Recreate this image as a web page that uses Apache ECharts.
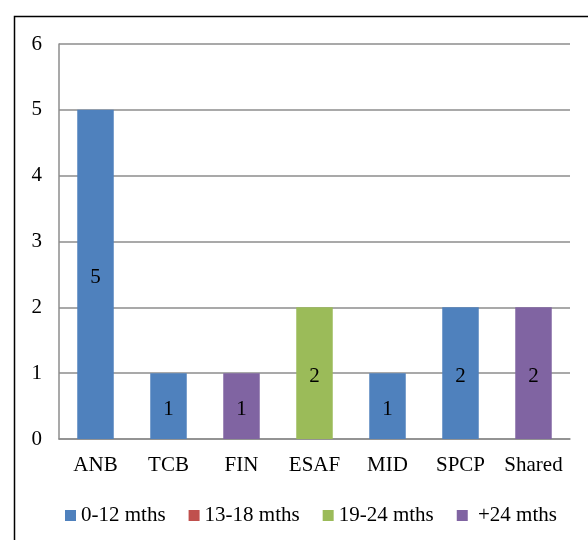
<!DOCTYPE html>
<html>
<head>
<meta charset="utf-8">
<script src="https://cdn.jsdelivr.net/npm/echarts@6/dist/echarts.min.js"></script>
<style>
  html, body { margin: 0; padding: 0; background: #fff; }
  #chart { width: 588px; height: 540px; }
</style>
</head>
<body>
<div id="chart"></div>
<script>
// Project groups along the x axis
const categories = ['ANB', 'TCB', 'FIN', 'ESAF', 'MID', 'SPCP', 'Shared'];

// Counts per age band (null = no bar for that group)
const months0to12  = [5, 1, null, null, 1, 2, null];
const months13to18 = [null, null, null, null, null, null, null];
const months19to24 = [null, null, null, 2, null, null, null];
const months24plus = [null, null, 1, null, null, null, 2];

const seriesNames = ['0-12 mths', '13-18 mths', '19-24 mths', '+24 mths'];
const seriesColors = ['#4F81BD', '#C0504D', '#9BBB59', '#8064A2'];
const seriesData = [months0to12, months13to18, months19to24, months24plus];

const yTicks = { min: 0, max: 6, interval: 1 };

const font = 'Liberation Serif';

const chart = echarts.init(document.getElementById('chart'), null, { renderer: 'canvas' });

chart.setOption({
  backgroundColor: '#fff',
  animation: false,
  graphic: [{
    type: 'rect',
    left: 12,
    top: 14,
    shape: { width: 700, height: 700 },
    style: { fill: 'none', stroke: '#000', lineWidth: 1.5 },
    silent: true
  }],
  grid: { left: 59, top: 44, right: 18, bottom: 101, containLabel: false },
  legend: {
    left: 60,
    top: 500,
    itemWidth: 11,
    itemHeight: 11,
    itemGap: 23,
    icon: 'rect',
    textStyle: { fontFamily: font, fontSize: 21, color: '#000' },
    // the last entry sits a little further from its swatch
    formatter: name => (name === '+24 mths' ? ' ' + name : name),
    data: seriesNames
  },
  xAxis: {
    type: 'category',
    data: categories,
    axisLine: { lineStyle: { color: '#8c8c8c', width: 1.5 } },
    axisTick: { show: false },
    axisLabel: { interval: 0, fontFamily: font, fontSize: 21, color: '#000', margin: 16 }
  },
  yAxis: {
    type: 'value',
    min: yTicks.min,
    max: yTicks.max,
    interval: yTicks.interval,
    axisLine: { show: true, lineStyle: { color: '#8c8c8c', width: 1.5 } },
    axisTick: { show: false },
    splitLine: { lineStyle: { color: '#8c8c8c', width: 1.5 } },
    axisLabel: { fontFamily: font, fontSize: 21, color: '#000', margin: 17 }
  },
  series: seriesNames.map((name, i) => ({
    name: name,
    type: 'bar',
    stack: 'total',
    barWidth: '50%',
    data: seriesData[i],
    itemStyle: { color: seriesColors[i] },
    label: {
      show: true,
      position: 'inside',
      offset: [0, 3],
      fontFamily: font,
      fontSize: 21,
      color: '#000',
      formatter: p => (p.value == null ? '' : String(p.value))
    }
  }))
});
</script>
</body>
</html>
